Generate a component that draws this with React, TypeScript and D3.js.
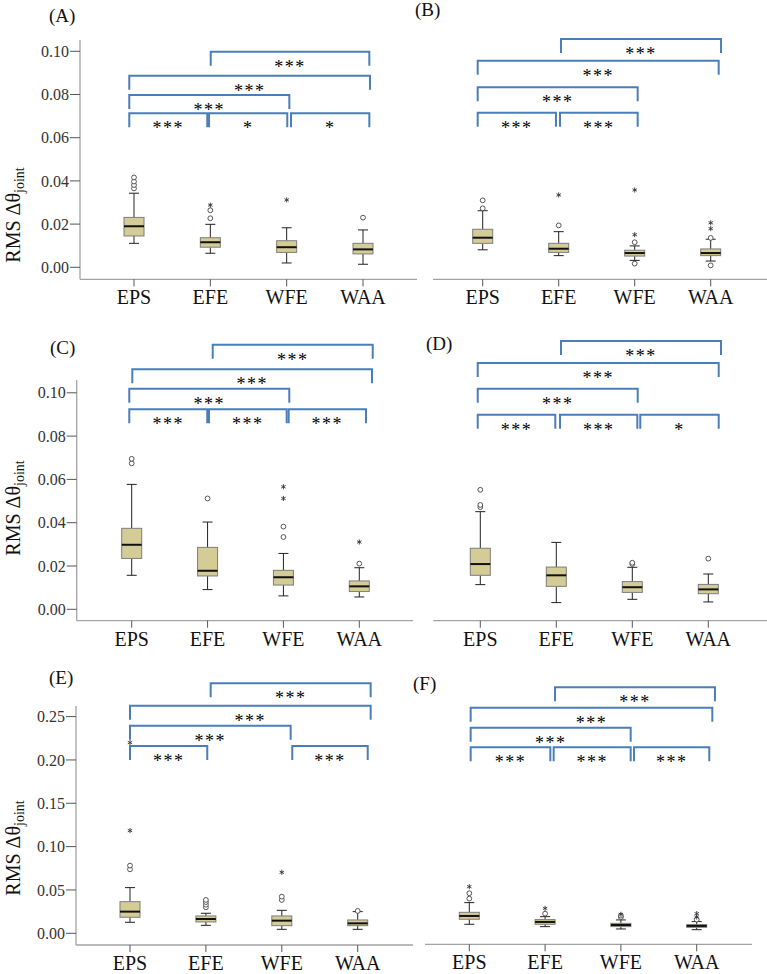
import React from "react";
import * as d3 from "d3";

const categories = ["EPS", "EFE", "WFE", "WAA"];

// five-number summaries per category: [whiskerLow, q1, median, q3, whiskerHigh]
const statsA = [[0.0111, 0.0145, 0.0190, 0.0231, 0.0343], [0.0065, 0.0093, 0.0116, 0.0137, 0.0199], [0.0020, 0.0069, 0.0093, 0.0123, 0.0183], [0.0014, 0.0062, 0.0083, 0.0111, 0.0173]];
const statsB = [[0.0081, 0.0111, 0.0137, 0.0176, 0.0262], [0.0054, 0.0069, 0.0086, 0.0111, 0.0165], [0.0032, 0.0052, 0.0066, 0.0079, 0.0099], [0.0029, 0.0054, 0.0066, 0.0085, 0.0130]];
const statsC = [[0.0157, 0.0235, 0.0298, 0.0374, 0.0577], [0.0091, 0.0154, 0.0178, 0.0286, 0.0403], [0.0062, 0.0112, 0.0148, 0.0180, 0.0258], [0.0057, 0.0082, 0.0106, 0.0131, 0.0192]];
const statsD = [[0.0114, 0.0157, 0.0209, 0.0282, 0.0451], [0.0031, 0.0106, 0.0157, 0.0195, 0.0309], [0.0046, 0.0078, 0.0102, 0.0128, 0.0194], [0.0034, 0.0072, 0.0092, 0.0115, 0.0163]];
const statsE = [[0.0127, 0.0185, 0.0250, 0.0365, 0.0527], [0.0092, 0.0131, 0.0165, 0.0200, 0.0231], [0.0046, 0.0088, 0.0146, 0.0200, 0.0265], [0.0046, 0.0088, 0.0115, 0.0154, 0.0250]];
const statsF = [[0.0104, 0.0162, 0.0200, 0.0242, 0.0354], [0.0077, 0.0104, 0.0131, 0.0158, 0.0192], [0.0050, 0.0077, 0.0096, 0.0115, 0.0154], [0.0042, 0.0069, 0.0085, 0.0100, 0.0135]];

// outliers: [categoryIndex, value, kind] kind "o" = outlier circle, "*" = extreme
const outliersA: [number, number, string][] = [[0, 0.0365, "o"], [0, 0.0381, "o"], [0, 0.0397, "o"], [0, 0.0416, "o"], [1, 0.0227, "o"], [1, 0.0264, "o"], [1, 0.0288, "*"], [2, 0.0312, "*"], [3, 0.0230, "o"]];
const outliersB: [number, number, string][] = [[0, 0.0273, "o"], [0, 0.0310, "o"], [1, 0.0194, "o"], [1, 0.0335, "*"], [2, 0.0116, "o"], [2, 0.0151, "*"], [2, 0.0017, "o"], [2, 0.0358, "*"], [3, 0.0136, "o"], [3, 0.0179, "*"], [3, 0.0206, "*"], [3, 0.0009, "o"]];
const outliersC: [number, number, string][] = [[0, 0.0674, "o"], [0, 0.0695, "o"], [1, 0.0512, "o"], [2, 0.0334, "o"], [2, 0.0382, "o"], [2, 0.0512, "*"], [2, 0.0566, "*"], [3, 0.0211, "o"], [3, 0.0311, "*"]];
const outliersD: [number, number, string][] = [[0, 0.0472, "o"], [0, 0.0482, "o"], [0, 0.0552, "o"], [2, 0.0209, "o"], [2, 0.0215, "o"], [3, 0.0234, "o"]];
const outliersE: [number, number, string][] = [[0, 0.0738, "o"], [0, 0.0781, "o"], [0, 0.1185, "*"], [0, 0.2200, "*"], [1, 0.0300, "o"], [1, 0.0330, "o"], [1, 0.0360, "o"], [1, 0.0385, "o"], [2, 0.0385, "o"], [2, 0.0423, "o"], [2, 0.0704, "*"], [3, 0.0258, "o"]];
const outliersF: [number, number, string][] = [[0, 0.0400, "o"], [0, 0.0462, "o"], [0, 0.0538, "*"], [1, 0.0227, "o"], [1, 0.0288, "*"], [2, 0.0185, "o"], [2, 0.0204, "o"], [2, 0.0219, "*"], [3, 0.0158, "o"], [3, 0.0188, "*"], [3, 0.0227, "*"]];

// significance brackets: [fromIndex, toIndex, level (data units), label]
const bracketsA: [number, number, number, string][] = [[1.005, 3.083, 0.0998, "***"], [-0.062, 3.092, 0.0887, "***"], [-0.062, 2.035, 0.0798, "***"], [-0.062, 0.96, 0.0713, "***"], [0.983, 2.008, 0.0713, "*"], [2.057, 3.083, 0.0713, "*"]];
const bracketsB: [number, number, number, string][] = [[1.03, 3.136, 0.1057, "***"], [-0.066, 3.105, 0.0956, "***"], [-0.066, 2.039, 0.0833, "***"], [-0.066, 0.964, 0.0716, "***"], [1.017, 2.039, 0.0716, "***"]];
const bracketsC: [number, number, number, string][] = [[1.068, 3.177, 0.1222, "***"], [0.008, 3.167, 0.1109, "***"], [-0.032, 2.077, 0.1019, "***"], [-0.032, 0.996, 0.0924, "***"], [1.019, 2.043, 0.0924, "***"], [2.069, 3.088, 0.0924, "***"]];
const bracketsD: [number, number, number, string][] = [[1.062, 3.167, 0.1239, "***"], [-0.034, 3.137, 0.1138, "***"], [-0.034, 2.071, 0.1019, "***"], [-0.034, 0.987, 0.0899, "***"], [1.049, 2.066, 0.0899, "***"], [2.105, 3.137, 0.0899, "*"]];
const bracketsE: [number, number, number, string][] = [[1.063, 3.171, 0.2885, "***"], [0, 3.171, 0.2626, "***"], [0, 2.117, 0.2395, "***"], [0, 1.018, 0.2161, "***"], [2.138, 3.132, 0.2161, "***"]];
const bracketsF: [number, number, number, string][] = [[1.131, 3.241, 0.2838, "***"], [0.018, 3.206, 0.2603, "***"], [0.018, 2.129, 0.2372, "***"], [0.018, 1.069, 0.2146, "***"], [1.113, 2.129, 0.2146, "***"], [2.173, 3.166, 0.2146, "***"]];

const ticksSmall = [0, 0.02, 0.04, 0.06, 0.08, 0.1];
const ticksLarge = [0, 0.05, 0.1, 0.15, 0.2, 0.25];

const panels = [
  { label: "(A)", lx: 49, ly: 22, stats: statsA, outliers: outliersA, brackets: bracketsA, domain: [0, 0.1], range: [267.3, 51.3], ticks: ticksSmall, showY: true, axisX: 80, axisTop: 40, xAxisY: 279.3, xL: 80, xR: 417, cL: 134, cR: 363, titleY: 215 },
  { label: "(B)", lx: 415, ly: 16, stats: statsB, outliers: outliersB, brackets: bracketsB, domain: [0, 0.1], range: [267.3, 51.3], ticks: ticksSmall, showY: false, axisX: 0, axisTop: 0, xAxisY: 279.3, xL: 433, xR: 767, cL: 482.7, cR: 710.7, titleY: 0 },
  { label: "(C)", lx: 50, ly: 354, stats: statsC, outliers: outliersC, brackets: bracketsC, domain: [0, 0.1], range: [609.3, 392.8], ticks: ticksSmall, showY: true, axisX: 76.7, axisTop: 380, xAxisY: 620.7, xL: 76.7, xR: 413, cL: 131.7, cR: 359.3, titleY: 508 },
  { label: "(D)", lx: 426, ly: 350, stats: statsD, outliers: outliersD, brackets: bracketsD, domain: [0, 0.1], range: [609.3, 392.8], ticks: ticksSmall, showY: false, axisX: 0, axisTop: 0, xAxisY: 620.7, xL: 433.3, xR: 767, cL: 480.3, cR: 708.3, titleY: 0 },
  { label: "(E)", lx: 49, ly: 684, stats: statsE, outliers: outliersE, brackets: bracketsE, domain: [0, 0.25], range: [933.3, 716.6], ticks: ticksLarge, showY: true, axisX: 76, axisTop: 706, xAxisY: 945, xL: 76, xR: 413, cL: 130, cR: 357.7, titleY: 848 },
  { label: "(F)", lx: 413, ly: 690, stats: statsF, outliers: outliersF, brackets: bracketsF, domain: [0, 0.25], range: [933.3, 716.6], ticks: ticksLarge, showY: false, axisX: 0, axisTop: 0, xAxisY: 944.3, xL: 425, xR: 752, cL: 469.3, cR: 696.7, titleY: 0 },
];

const FONT = "Liberation Serif, Times New Roman, serif";
const AXIS = "#a3a3a3";
const BOX_FILL = "#d4cc96";
const BOX_STROKE = "#7d7d7d";
const BRACKET = "#4a7ebb";
const BOX_W = 20;
const CAP_W = 10;
const LEG = 14;

const starPath = d3.symbol().type(d3.symbolAsterisk).size(18)() as string;
const serif = { fontFamily: FONT };

function Panel({ p }: { p: any }) {
  const y = d3.scaleLinear().domain(p.domain).range(p.range);
  const x = d3.scalePoint<string>().domain(categories).range([p.cL, p.cR]);
  const xi = d3.scaleLinear().domain([0, 3]).range([p.cL, p.cR]);
  const fmt = d3.format(".2f");
  return (
    <g>
      <text x={p.lx} y={p.ly} fontSize={19} style={serif} fill="#111">{p.label}</text>
      {p.showY && (
        <g>
          <line x1={p.axisX} x2={p.axisX} y1={p.axisTop} y2={p.xAxisY} stroke={AXIS} strokeWidth={1.3} />
          {p.ticks.map((t: number) => (
            <g key={t}>
              <line x1={p.axisX - 10} x2={p.axisX} y1={y(t)} y2={y(t)} stroke="#555" strokeWidth={1} />
              <text x={p.axisX - 11} y={y(t)} dy="0.35em" textAnchor="end" fontSize={16} style={serif} fill="#333">{fmt(t)}</text>
            </g>
          ))}
          <text transform={`translate(20,${p.titleY}) rotate(-90)`} textAnchor="middle" fontSize={20} style={serif} fill="#111">
            RMS Δθ<tspan fontSize={14} dy={4}>joint</tspan>
          </text>
        </g>
      )}
      <line x1={p.xL} x2={p.xR} y1={p.xAxisY} y2={p.xAxisY} stroke={AXIS} strokeWidth={1.3} />
      {categories.map((c) => (
        <g key={c}>
          <line x1={x(c)} x2={x(c)} y1={p.xAxisY} y2={p.xAxisY + 7} stroke="#555" strokeWidth={1} />
          <text x={x(c)} y={p.xAxisY + 25} textAnchor="middle" fontSize={20} style={serif} fill="#111">{c}</text>
        </g>
      ))}
      {p.stats.map((s: number[], i: number) => {
        const cx = x(categories[i]) as number;
        const [wl, q1, md, q3, wh] = s;
        return (
          <g key={i}>
            <line x1={cx} x2={cx} y1={y(q3)} y2={y(wh)} stroke="#222" strokeWidth={1} />
            <line x1={cx} x2={cx} y1={y(q1)} y2={y(wl)} stroke="#222" strokeWidth={1} />
            <line x1={cx - CAP_W / 2} x2={cx + CAP_W / 2} y1={y(wh)} y2={y(wh)} stroke="#222" strokeWidth={1} />
            <line x1={cx - CAP_W / 2} x2={cx + CAP_W / 2} y1={y(wl)} y2={y(wl)} stroke="#222" strokeWidth={1} />
            <rect x={cx - BOX_W / 2} y={y(q3)} width={BOX_W} height={y(q1) - y(q3)} fill={BOX_FILL} stroke={BOX_STROKE} strokeWidth={1} />
            <line x1={cx - BOX_W / 2} x2={cx + BOX_W / 2} y1={y(md)} y2={y(md)} stroke="#111" strokeWidth={2} />
          </g>
        );
      })}
      {p.outliers.map((o: [number, number, string], k: number) => {
        const cx = x(categories[o[0]]) as number;
        return o[2] === "o" ? (
          <circle key={k} cx={cx} cy={y(o[1])} r={2.4} fill="white" stroke="#555" strokeWidth={1} />
        ) : (
          <path key={k} d={starPath} transform={`translate(${cx},${y(o[1])})`} fill="none" stroke="#333" strokeWidth={0.9} />
        );
      })}
      {p.brackets.map((b: [number, number, number, string], k: number) => {
        const x1 = xi(b[0]);
        const x2 = xi(b[1]);
        const yy = y(b[2]);
        return (
          <g key={k}>
            <path d={`M${x1},${yy + LEG}V${yy}H${x2}V${yy + LEG}`} fill="none" stroke={BRACKET} strokeWidth={2} />
            <text x={(x1 + x2) / 2} y={yy + 21} textAnchor="middle" fontSize={18} letterSpacing={1.5} style={serif} fill="#000">{b[3]}</text>
          </g>
        );
      })}
    </g>
  );
}

export default function App() {
  return (
    <svg width={767} height={974} style={{ position: "absolute", left: 0, top: 0, background: "white" }}>
      <rect width={767} height={974} fill="white" />
      {panels.map((p, i) => (
        <Panel key={i} p={p} />
      ))}
    </svg>
  );
}
